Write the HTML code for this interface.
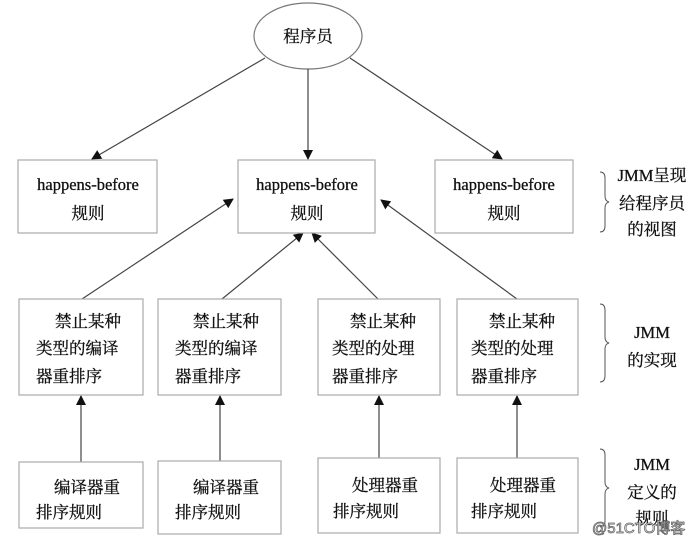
<!DOCTYPE html>
<html><head><meta charset="utf-8"><style>
html,body{margin:0;padding:0;background:#fff;}
svg{display:block;}
text{font-family:"Liberation Serif","Noto Serif CJK SC",serif;font-size:16.5px;fill:#111;stroke:#111;stroke-width:0.3;}
</style></head><body>
<svg width="700" height="547" viewBox="0 0 700 547" xmlns="http://www.w3.org/2000/svg">
<defs><marker id="a" markerWidth="10" markerHeight="10" refX="9" refY="5" orient="auto" markerUnits="userSpaceOnUse"><path d="M0,0 L10,5 L0,10 z" fill="#111"/></marker></defs>
<g fill="none" stroke="#444" stroke-width="1.2">
<ellipse cx="308" cy="36" rx="54" ry="33" stroke="#777"/>
<line x1="265" y1="58" x2="92" y2="159" marker-end="url(#a)"/>
<line x1="308" y1="69" x2="308" y2="159" marker-end="url(#a)"/>
<line x1="350" y1="58" x2="502" y2="159" marker-end="url(#a)"/>
<line x1="82" y1="299" x2="233" y2="199" marker-end="url(#a)"/>
<line x1="222" y1="299" x2="303" y2="233" marker-end="url(#a)"/>
<line x1="378" y1="299" x2="312" y2="233" marker-end="url(#a)"/>
<line x1="517" y1="299" x2="381" y2="200" marker-end="url(#a)"/>
<line x1="81" y1="462" x2="81" y2="396" marker-end="url(#a)"/>
<line x1="220" y1="461" x2="220" y2="396" marker-end="url(#a)"/>
<line x1="379" y1="458" x2="379" y2="396" marker-end="url(#a)"/>
<line x1="517" y1="458" x2="517" y2="396" marker-end="url(#a)"/>
</g>
<g fill="none" stroke="#aaa" stroke-width="1.2">
<rect x="18" y="160" width="139" height="73"/>
<rect x="238" y="160" width="137" height="73"/>
<rect x="435" y="160" width="138" height="73"/>
<rect x="19" y="299" width="124" height="96"/>
<rect x="158" y="299" width="123" height="96"/>
<rect x="318" y="299" width="122" height="96"/>
<rect x="457" y="299" width="121" height="96"/>
<rect x="19" y="462" width="124" height="66"/>
<rect x="158" y="461" width="123" height="73"/>
<rect x="318" y="458" width="122" height="75"/>
<rect x="457" y="458" width="121" height="75"/>
</g>
<g fill="none" stroke="#555" stroke-width="1">
<path d="M600,172 q5,0 5,6 v18 q0,5 4,6 q-4,1 -4,6 v18 q0,6 -5,6"/>
<path d="M600,304 q5,0 5,6 v27 q0,5 4,6 q-4,1 -4,6 v27 q0,6 -5,6"/>
<path d="M600,449 q5,0 5,6 v27 q0,5 4,6 q-4,1 -4,6 v27 q0,6 -5,6"/>
</g>
<text x="308" y="42" text-anchor="middle">程序员</text>
<g text-anchor="middle">
<text x="88" y="190">happens-before</text><text x="88" y="219">规则</text>
<text x="307" y="190">happens-before</text><text x="307" y="219">规则</text>
<text x="504" y="190">happens-before</text><text x="504" y="219">规则</text>
<text x="652" y="181">JMM呈现</text><text x="652" y="209">给程序员</text><text x="652" y="235">的视图</text>
<text x="652" y="338">JMM</text><text x="652" y="366">的实现</text>
<text x="652" y="470">JMM</text><text x="652" y="498">定义的</text><text x="652" y="524">规则</text>
</g>
<text x="55" y="327">禁止某种</text><text x="36" y="354">类型的编译</text><text x="36" y="382">器重排序</text>
<text x="193" y="327">禁止某种</text><text x="175" y="354">类型的编译</text><text x="175" y="382">器重排序</text>
<text x="350" y="327">禁止某种</text><text x="332" y="354">类型的处理</text><text x="332" y="382">器重排序</text>
<text x="489" y="327">禁止某种</text><text x="471" y="354">类型的处理</text><text x="471" y="382">器重排序</text>
<text x="54" y="493">编译器重</text><text x="36" y="518">排序规则</text>
<text x="193" y="493">编译器重</text><text x="175" y="518">排序规则</text>
<text x="352" y="491">处理器重</text><text x="333" y="517">排序规则</text>
<text x="490" y="491">处理器重</text><text x="471" y="517">排序规则</text>
<text x="592" y="533" style="font-family:'Liberation Sans','Noto Sans CJK SC',sans-serif;font-size:15px;fill:#fff;stroke:#666;stroke-width:0.8">@51CTO博客</text>
</svg>
</body></html>
